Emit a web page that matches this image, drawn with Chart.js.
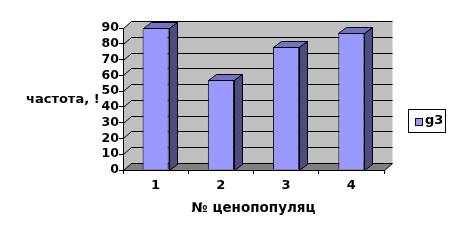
<!DOCTYPE html>
<html>
<head>
<meta charset="utf-8">
<script src="https://cdn.jsdelivr.net/npm/chart.js@4/dist/chart.umd.min.js"></script>
<style>
  html, body { margin: 0; padding: 0; background: #fff; }
  #wrap { width: 454px; height: 242px; }
</style>
</head>
<body>
<div id="wrap"><canvas id="chart" width="454" height="242"></canvas></div>
<script>
// data
const categories = ['1', '2', '3', '4'];
const seriesName = 'g3';
const g3Values = [90, 57, 78, 87];
const yTicks = [0, 10, 20, 30, 40, 50, 60, 70, 80, 90];
const yTitle = 'частота, !';
const xTitle = '№ ценопопуляц';

const FONT = 'DejaVu Sans';
const WALL = { dx: 8, dy: 7 };
const BAR = { dx: 8, dy: 6 };

function crisp(v) { return Math.round(v) + 0.5; }

// back wall, side wall, floor and the gridlines that run over them
const wallPlugin = {
  id: 'wall3d',
  beforeDraw(chart) {
    const ctx = chart.ctx;
    const { left, right, top, bottom } = chart.chartArea;
    const yScale = chart.scales.y;
    const L = crisp(left), R = crisp(right), T = crisp(top), B = crisp(bottom);

    ctx.save();
    ctx.fillStyle = '#fff';
    ctx.fillRect(0, 0, chart.width, chart.height);

    ctx.fillStyle = '#c0c0c0';
    ctx.beginPath();
    ctx.moveTo(L, B);
    ctx.lineTo(L, T);
    ctx.lineTo(L + WALL.dx, T - WALL.dy);
    ctx.lineTo(R + WALL.dx, T - WALL.dy);
    ctx.lineTo(R + WALL.dx, B - WALL.dy);
    ctx.lineTo(L + WALL.dx, B - WALL.dy);
    ctx.closePath();
    ctx.fill();

    ctx.fillStyle = '#808080';
    ctx.beginPath();
    ctx.moveTo(L, B);
    ctx.lineTo(R, B);
    ctx.lineTo(R + WALL.dx, B - WALL.dy);
    ctx.lineTo(L + WALL.dx, B - WALL.dy);
    ctx.closePath();
    ctx.fill();

    ctx.strokeStyle = '#000';
    ctx.lineWidth = 1;
    yTicks.forEach(v => {
      const y = crisp(yScale.getPixelForValue(v));
      ctx.beginPath();
      ctx.moveTo(L, y);
      ctx.lineTo(L + WALL.dx, y - WALL.dy);
      ctx.lineTo(R + WALL.dx, y - WALL.dy);
      ctx.stroke();
    });
    // right end of the floor
    ctx.beginPath();
    ctx.moveTo(R, B);
    ctx.lineTo(R + WALL.dx, B - WALL.dy);
    ctx.stroke();

    // horizontal y title
    ctx.fillStyle = '#000';
    ctx.font = 'bold 13px "' + FONT + '"';
    ctx.textAlign = 'left';
    ctx.textBaseline = 'middle';
    ctx.fillText(yTitle, 26, 100);
    ctx.restore();
  }
};

// top and side faces of the columns + legend box
const barPlugin = {
  id: 'bar3d',
  afterDatasetsDraw(chart) {
    const ctx = chart.ctx;
    const meta = chart.getDatasetMeta(0);
    ctx.save();
    ctx.strokeStyle = '#000';
    ctx.lineWidth = 1;
    meta.data.forEach(bar => {
      const { x, y, base, width } = bar.getProps(['x', 'y', 'base', 'width'], true);
      const l = crisp(x - width / 2), r = crisp(x + width / 2);
      const t = crisp(y), b = crisp(base);

      ctx.fillStyle = '#7373bf';
      ctx.beginPath();
      ctx.moveTo(l, t);
      ctx.lineTo(l + BAR.dx, t - BAR.dy);
      ctx.lineTo(r + BAR.dx, t - BAR.dy);
      ctx.lineTo(r, t);
      ctx.closePath();
      ctx.fill();
      ctx.stroke();

      ctx.fillStyle = '#4c4c80';
      ctx.beginPath();
      ctx.moveTo(r, t);
      ctx.lineTo(r + BAR.dx, t - BAR.dy);
      ctx.lineTo(r + BAR.dx, b - BAR.dy);
      ctx.lineTo(r, b);
      ctx.closePath();
      ctx.fill();
      ctx.stroke();
    });
    ctx.restore();
  },
  afterDraw(chart) {
    const ctx = chart.ctx;
    ctx.save();
    ctx.fillStyle = '#fff';
    ctx.strokeStyle = '#000';
    ctx.lineWidth = 1;
    ctx.fillRect(408.5, 109.5, 37, 23);
    ctx.strokeRect(408.5, 109.5, 37, 23);
    ctx.fillStyle = '#9999ff';
    ctx.fillRect(415.5, 118.5, 7, 7);
    ctx.strokeRect(415.5, 118.5, 7, 7);
    ctx.fillStyle = '#000';
    ctx.font = 'bold 13px "' + FONT + '"';
    ctx.textAlign = 'left';
    ctx.textBaseline = 'middle';
    ctx.fillText(seriesName, 425, 121);
    ctx.restore();
  }
};

new Chart(document.getElementById('chart'), {
  type: 'bar',
  data: {
    labels: categories,
    datasets: [{
      label: seriesName,
      data: g3Values,
      backgroundColor: '#9999ff',
      borderColor: '#000',
      borderWidth: 1,
      categoryPercentage: 1,
      barPercentage: 0.4
    }]
  },
  options: {
    responsive: false,
    animation: false,
    devicePixelRatio: 1,
    layout: { padding: { top: 28, right: 70, bottom: 0, left: 0 } },
    plugins: {
      legend: { display: false },
      tooltip: { enabled: false }
    },
    scales: {
      x: {
        grid: { drawOnChartArea: false, drawTicks: true, tickLength: 4, color: '#000' },
        border: { display: true, color: '#000' },
        ticks: { color: '#000', padding: 4, font: { family: FONT, size: 13, weight: 'bold' } },
        title: {
          display: true, text: xTitle, color: '#000',
          font: { family: FONT, size: 13.5, weight: 'bold' },
          padding: { top: 0, bottom: 25 }
        },
        afterFit(scale) { scale.height = 72; }
      },
      y: {
        min: yTicks[0],
        max: yTicks[yTicks.length - 1],
        grid: { drawOnChartArea: false, drawTicks: true, tickLength: 4, color: '#000' },
        border: { display: true, color: '#000' },
        ticks: {
          stepSize: yTicks[1] - yTicks[0],
          autoSkip: false,
          color: '#000', padding: 0,
          font: { family: FONT, size: 12.5, weight: 'bold' }
        },
        afterFit(scale) { scale.width = 123; }
      }
    }
  },
  plugins: [wallPlugin, barPlugin]
});
</script>
</body>
</html>
